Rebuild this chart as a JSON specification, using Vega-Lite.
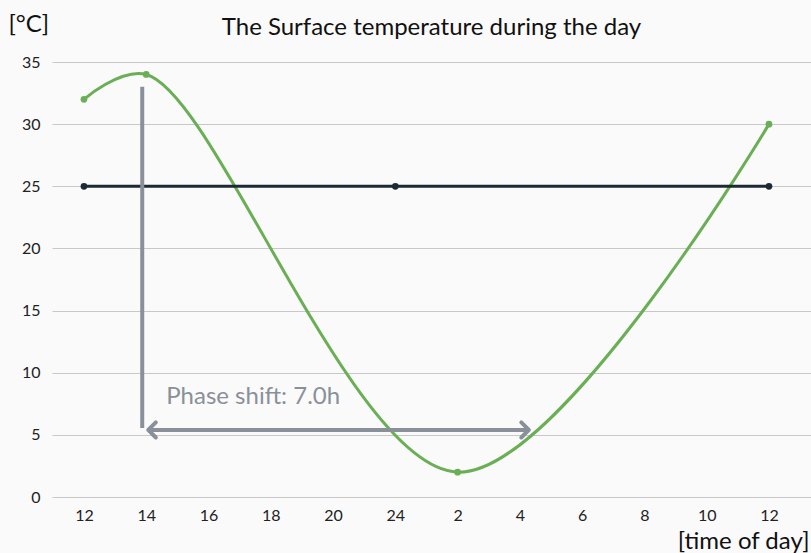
{
  "$schema": "https://vega.github.io/schema/vega-lite/v6.json",
  "autosize": "none",
  "width": 759,
  "height": 435,
  "padding": {"left": 52, "top": 62, "right": 0, "bottom": 56},
  "background": "#fafafa",
  "config": {
    "font": "Lato",
    "view": {"stroke": null},
    "axis": {"labelFont": "Lato", "titleFont": "Lato"}
  },
  "title": {
    "text": "The Surface temperature during the day",
    "font": "Lato",
    "fontSize": 24,
    "fontWeight": "normal",
    "color": "#111111",
    "anchor": "middle",
    "offset": 0,
    "dy": 28
  },
  "datasets": {
    "surface": [
      {"time": "12a", "temp": 32},
      {"time": "14", "temp": 34},
      {"time": "2", "temp": 2},
      {"time": "12b", "temp": 30}
    ],
    "ref": [
      {"time": "12a", "temp": 25},
      {"time": "24", "temp": 25},
      {"time": "12b", "temp": 25}
    ],
    "vline": [{"time": "14", "y1": 33.0, "y2": 5.55}],
    "arrow": [{"from": "14", "to": "4", "y": 5.4}],
    "label": [{"time": "14", "y": 8.05, "text": "Phase shift: 7.0h"}]
  },
  "encoding": {
    "x": {
      "field": "time",
      "type": "ordinal",
      "scale": {
        "type": "point",
        "domain": ["12a", "14", "16", "18", "20", "24", "2", "4", "6", "8", "10", "12b"],
        "padding": 0.594,
        "align": 0.432
      },
      "axis": {
        "title": "[time of day]",
        "titleFontSize": 24,
        "titleFontWeight": "normal",
        "titleColor": "#111111",
        "titleAlign": "right",
        "titleAnchor": "end",
        "titleX": 757,
        "titleY": 44,
        "titleBaseline": "middle",
        "labelExpr": "replace(replace(datum.value, 'a', ''), 'b', '')",
        "labelFontSize": 16,
        "labelColor": "#222222",
        "labelPadding": 10,
        "labelAngle": 0,
        "ticks": false,
        "domain": false,
        "grid": false
      }
    }
  },
  "layer": [
    {
      "data": {"name": "surface"},
      "mark": {
        "type": "line",
        "interpolate": "catmull-rom",
        "tension": 0.5,
        "color": "#6aae55",
        "strokeWidth": 3,
        "point": {"filled": true, "size": 45, "color": "#6aae55"}
      },
      "encoding": {
        "y": {
          "field": "temp",
          "type": "quantitative",
          "scale": {"domain": [0, 35], "nice": false},
          "axis": {
            "title": "[°C]",
            "titleAngle": 0,
            "titleFontSize": 24,
            "titleFontWeight": "normal",
            "titleColor": "#111111",
            "titleAlign": "left",
            "titleBaseline": "middle",
            "titleX": -44,
            "titleY": -38,
            "values": [0, 5, 10, 15, 20, 25, 30, 35],
            "labelFontSize": 16,
            "labelColor": "#222222",
            "labelPadding": 12,
            "ticks": false,
            "domain": false,
            "gridColor": "#c8c8c8",
            "gridWidth": 1
          }
        }
      }
    },
    {
      "data": {"name": "ref"},
      "mark": {
        "type": "line",
        "color": "#1d2a35",
        "strokeWidth": 3,
        "point": {"filled": true, "size": 45, "color": "#1d2a35"}
      },
      "encoding": {"y": {"field": "temp", "type": "quantitative"}}
    },
    {
      "data": {"name": "vline"},
      "mark": {"type": "rule", "color": "#8a9099", "strokeWidth": 4, "xOffset": -4},
      "encoding": {
        "y": {"field": "y1", "type": "quantitative"},
        "y2": {"field": "y2"}
      }
    },
    {
      "data": {"name": "arrow"},
      "mark": {"type": "rule", "color": "#8a9099", "strokeWidth": 4, "xOffset": 2, "x2Offset": 8},
      "encoding": {
        "x": {"field": "from", "type": "ordinal"},
        "x2": {"field": "to"},
        "y": {"field": "y", "type": "quantitative"}
      }
    },
    {
      "data": {"name": "arrow"},
      "mark": {
        "type": "point",
        "shape": "M1,-1L0,0L1,1",
        "filled": false,
        "size": 230,
        "stroke": "#8a9099",
        "strokeWidth": 4,
        "strokeCap": "round",
        "strokeJoin": "round",
        "opacity": 1,
        "xOffset": 2
      },
      "encoding": {
        "x": {"field": "from", "type": "ordinal"},
        "y": {"field": "y", "type": "quantitative"}
      }
    },
    {
      "data": {"name": "arrow"},
      "mark": {
        "type": "point",
        "shape": "M-1,-1L0,0L-1,1",
        "filled": false,
        "size": 230,
        "stroke": "#8a9099",
        "strokeWidth": 4,
        "strokeCap": "round",
        "strokeJoin": "round",
        "opacity": 1,
        "xOffset": 9
      },
      "encoding": {
        "x": {"field": "to", "type": "ordinal"},
        "y": {"field": "y", "type": "quantitative"}
      }
    },
    {
      "data": {"name": "label"},
      "mark": {
        "type": "text",
        "align": "left",
        "baseline": "middle",
        "dx": 20,
        "fontSize": 24,
        "color": "#8a9099"
      },
      "encoding": {
        "y": {"field": "y", "type": "quantitative"},
        "text": {"field": "text"}
      }
    }
  ]
}
